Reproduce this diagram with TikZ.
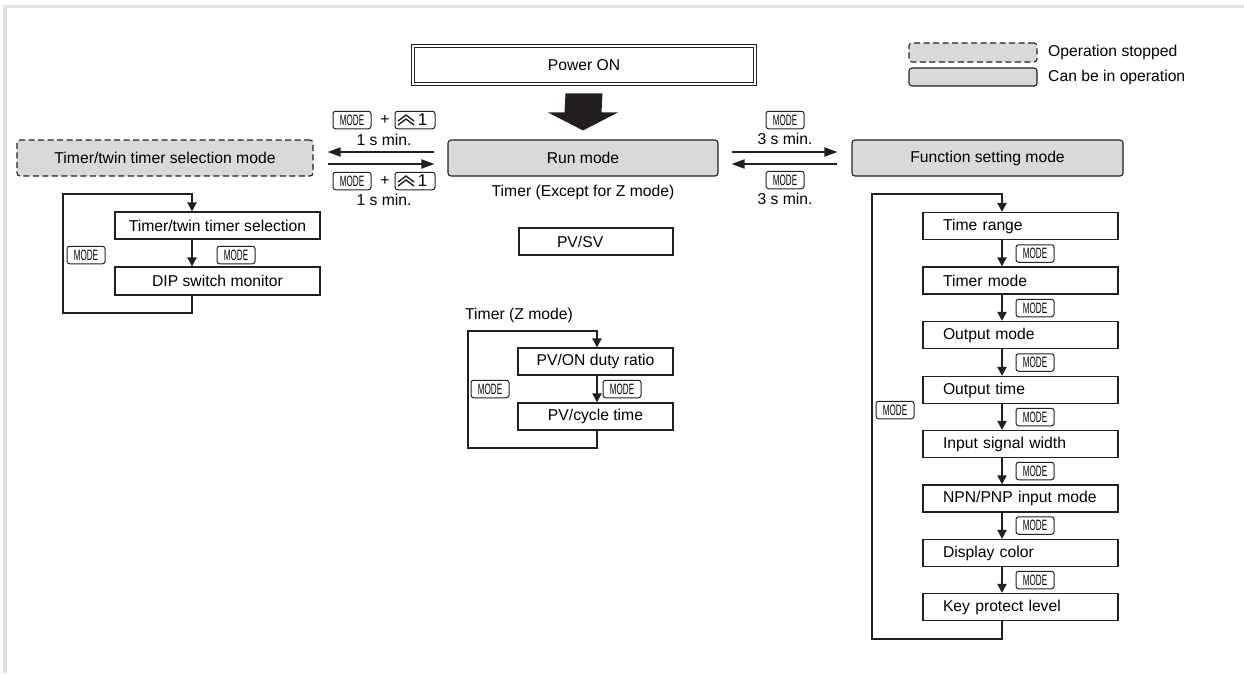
\documentclass[tikz,border=0pt]{standalone}
\usepackage{fontspec}
\usepackage{graphicx}
\setmainfont{Liberation Sans}
\usetikzlibrary{arrows.meta,calc}
\definecolor{graybox}{HTML}{D9D9D9}
\definecolor{frameg}{HTML}{E2E2E2}
\definecolor{ink}{HTML}{231F20}
\newcommand\mainfs{\fontsize{15.7}{18}\selectfont}
\newcommand\modetxt{\scalebox{0.54}[1]{\fontsize{15}{15}\selectfont MODE}}
\tikzset{
  box/.style={draw=ink, line width=1.2pt, fill=white, minimum height=27pt, inner sep=0pt, font=\mainfs},
  lbox/.style={box, minimum width=195pt, text width=155pt, inner xsep=20pt, align=left},
  modebox/.style={draw=ink, fill=graybox, rounded corners=3pt, line width=1.1pt, minimum height=36pt, inner sep=0pt, font=\mainfs},
  stopped/.style={modebox, dashed, dash pattern=on 6pt off 3.5pt},
  key/.style={draw=ink, rounded corners=2.5pt, line width=1pt, minimum width=38pt, minimum height=17.5pt, inner sep=0pt, fill=white},
  lbl/.style={font=\mainfs, inner sep=0pt},
  flow/.style={draw=ink, line width=2pt, -{Triangle[length=9pt,width=9pt]}},
  harrow/.style={draw=ink, line width=1.8pt, -{Triangle[length=13pt,width=9pt]}},
  loopl/.style={draw=ink, line width=2.5pt, -{Triangle[length=9pt,width=9pt]}},
  chev/.pic={\draw[ink, line width=1.4pt] (-8,1) -- (0,-5) -- (8,1); \draw[ink, line width=1.4pt] (-8,5) -- (0,-1) -- (8,5);}
}
\begin{document}
\begin{tikzpicture}[x=1pt,y=-1pt]
\useasboundingbox (0,0) rectangle (1244,673);
% frame
\fill[frameg] (3,5) rectangle (1244,8);
\fill[frameg] (3,5) rectangle (7,673);

% Power ON
\node[draw=ink, double, double distance=2pt, line width=0.9pt, minimum width=342pt, minimum height=38pt, inner sep=0pt, font=\mainfs] (pwr) at (584,65) {Power ON};

% main modes
\node[modebox, minimum width=270pt] (run) at (583,158) {Run mode};
\node[modebox, minimum width=271pt] (func) at (987.5,158) {Function setting mode};
\node[stopped, minimum width=296pt] (tsm) at (165,158) {Timer/twin timer selection mode};

% big arrow
\path ([yshift=-9pt]pwr.south) coordinate (ba1) ([yshift=9pt]run.north) coordinate (ba2);
\fill[ink] ($(ba1)+(-18.5,0)$) -- ($(ba1)+(18.5,0)$) -- ($(ba2)+(18.5,-18)$) -- ($(ba2)+(35,-18)$)
  -- (ba2) -- ($(ba2)+(-35,-18)$) -- ($(ba2)+(-18.5,-18)$) -- cycle;

% legend
\node[stopped, minimum width=128pt, minimum height=19pt] (lgs) at (973,52.5) {};
\node[modebox, minimum width=128pt, minimum height=18pt] (lgc) at (973,77) {};
\node[lbl, anchor=west] (lgst) at (1048,52.5) {Operation stopped};
\node[lbl, anchor=west] (lgct) at (1048,77) {Can be in operation};

% horizontal arrows
\draw[harrow] ([xshift=13pt,yshift=6pt]run.east) -- ([xshift=-14pt,yshift=6pt]func.west);
\draw[harrow] ([xshift=-14pt,yshift=-6pt]func.west) -- ([xshift=13pt,yshift=-6pt]run.east);
\draw[harrow] ([xshift=-13pt,yshift=6pt]run.west) -- ([xshift=14pt,yshift=6pt]tsm.east);
\draw[harrow] ([xshift=14pt,yshift=-6pt]tsm.east) -- ([xshift=-13pt,yshift=-6pt]run.west);

% key labels left
\node[key] (kL1) at (352,120) {\modetxt};
\node[lbl] (pL1) at (385,120) {+};
\node[key, minimum width=40pt] (kZ1) at (415,120) {\hspace*{15pt}\fontsize{17}{17}\selectfont 1};
\pic at ($(kZ1.center)+(-9,0)$) {chev};
\node[lbl] (tL1) at (384,140) {1 s min.};
\node[key] (kL2) at (352,181) {\modetxt};
\node[lbl] (pL2) at (385,181) {+};
\node[key, minimum width=40pt] (kZ2) at (415,181) {\hspace*{15pt}\fontsize{17}{17}\selectfont 1};
\pic at ($(kZ2.center)+(-9,0)$) {chev};
\node[lbl] (tL2) at (384,200) {1 s min.};

% key labels right
\node[key] (kR1) at (785,120) {\modetxt};
\node[lbl] (tR1) at (785,139) {3 s min.};
\node[key] (kR2) at (785,180) {\modetxt};
\node[lbl] (tR2) at (785,199) {3 s min.};

% texts under run
\node[lbl] (exc) at (583,192) {Timer (Except for Z mode)};
\node[box, minimum width=154pt, text width=78pt, inner xsep=38pt, align=left] (pvsv) at (596,241.5) {PV/SV};

% left chain
\node[box, minimum width=205pt] (tts) at (217.5,225.5) {Timer/twin timer selection};
\node[box, minimum width=205pt, minimum height=28pt] (dip) at (217.5,281) {DIP switch monitor};
\draw[flow] ([xshift=-25.5pt]tts.south) -- ([xshift=-25.5pt]dip.north);
\coordinate (lA) at (63,313);
\coordinate (lB) at (63,194);
\draw[loopl] ([xshift=-25.5pt]dip.south) |- (lA) -- (lB) -| ([xshift=-25.5pt]tts.north);
\node[key] (kA) at (86,255) {\modetxt};
\node[key] (kB) at (236,255) {\modetxt};

% middle chain
\node[lbl, anchor=west] (zt) at (465,315) {Timer (Z mode)};
\node[box, minimum width=155pt] (pvon) at (595.5,361.5) {PV/ON duty ratio};
\node[box, minimum width=155pt] (pvcy) at (595.5,416.5) {PV/cycle time};
\draw[flow] ([xshift=1.5pt]pvon.south) -- ([xshift=1.5pt]pvcy.north);
\coordinate (lC) at (468,448);
\coordinate (lD) at (468,331);
\draw[loopl] ([xshift=1.5pt]pvcy.south) |- (lC) -- (lD) -| ([xshift=1.5pt]pvon.north);
\node[key] (kC) at (490,389) {\modetxt};
\node[key] (kD) at (622,389) {\modetxt};

% right chain
\node[lbox] (f1) at (1020.5,226) {Time range};
\node[lbox] (f2) at (1020.5,280.5) {Timer mode};
\node[lbox] (f3) at (1020.5,335) {Output mode};
\node[lbox] (f4) at (1020.5,390) {Output time};
\node[lbox] (f5) at (1020.5,444) {Input signal width};
\node[lbox] (f6) at (1020.5,498.5) {NPN/PNP input mode};
\node[lbox] (f7) at (1020.5,553) {Display color};
\node[lbox] (f8) at (1020.5,607) {Key protect level};
\foreach \a/\b/\y in {f1/f2/253.5, f2/f3/308, f3/f4/362.5, f4/f5/417, f5/f6/471, f6/f7/525.5, f7/f8/580} {
  \draw[flow] ([xshift=-18.5pt]\a.south) -- ([xshift=-18.5pt]\b.north);
  \node[key] (k\a) at (1035,\y) {\modetxt};
}
\coordinate (lE) at (872,639);
\coordinate (lF) at (872,194);
\draw[loopl] ([xshift=-18.5pt]f8.south) |- (lE) -- (lF) -| ([xshift=-18.5pt]f1.north);
\node[key] (kE) at (895,410) {\modetxt};
\end{tikzpicture}
\end{document}
